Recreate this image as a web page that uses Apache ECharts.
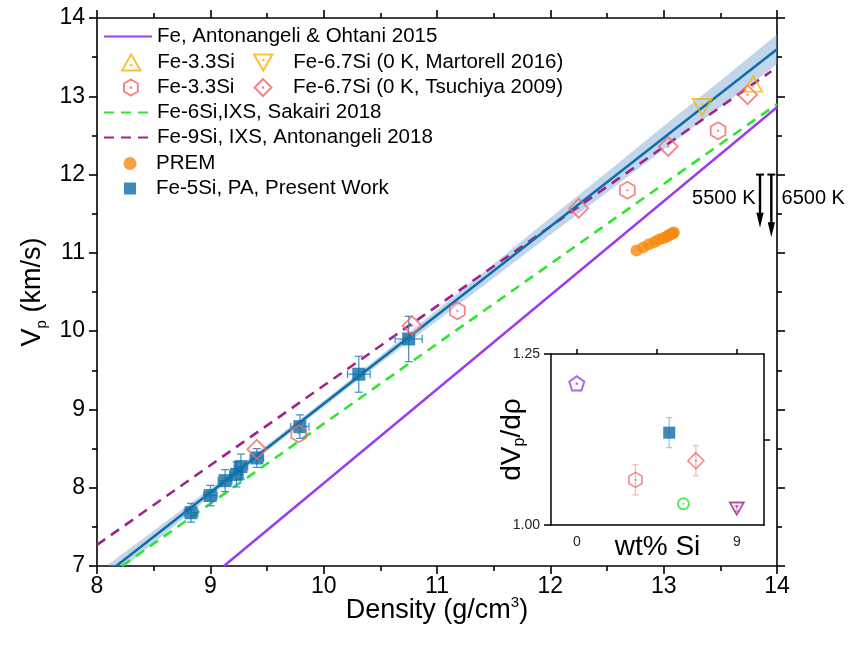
<!DOCTYPE html>
<html><head><meta charset="utf-8">
<script src="https://cdn.jsdelivr.net/npm/echarts@6/dist/echarts.min.js"></script>
<style>html,body{margin:0;padding:0;background:#fff}#c{width:854px;height:654px}</style>
</head><body><div id="c"></div>
<script>
// ---------- data ----------
const xTicks = [8, 9, 10, 11, 12, 13, 14];
const yTicks = [7, 8, 9, 10, 11, 12, 13, 14];

const feRho = [9.12, 14.0];          // Fe, Antonangeli & Ohtani 2015
const feVp = [7.0, 12.86];
const sakairiRho = [8.22, 14.0];     // Fe-6Si IXS Sakairi 2018
const sakairiVp = [7.0, 12.9];
const antonRho = [8.0, 13.95];       // Fe-9Si IXS Antonangeli 2018
const antonVp = [7.27, 13.32];
const fitRho = [8.17, 14.0];         // Fe-5Si fit (present work)
const fitVp = [7.0, 13.6];
const bandRho = [8.1, 9.0, 9.5, 10.0, 10.5, 11.0, 11.5, 12.0, 12.5, 13.0, 13.5, 14.0];
const bandLow = [6.82, 7.89, 8.47, 9.03, 9.59, 10.13, 10.68, 11.23, 11.77, 12.32, 12.86, 13.41];
const bandHigh = [7.02, 7.99, 8.55, 9.11, 9.69, 10.27, 10.86, 11.45, 12.03, 12.62, 13.20, 13.79];

const pwRho = [8.83, 9.00, 9.13, 9.23, 9.27, 9.41, 9.79, 10.31, 10.75];
const pwVp = [7.68, 7.90, 8.09, 8.17, 8.27, 8.38, 8.78, 9.45, 9.90];
const pwRhoErr = [0.06, 0.06, 0.06, 0.06, 0.06, 0.06, 0.08, 0.10, 0.12];
const pwVpErr = [0.12, 0.13, 0.14, 0.16, 0.16, 0.12, 0.15, 0.23, 0.29];

const tsHexRho = [9.78, 11.18, 12.68, 13.48];
const tsHexVp = [8.69, 10.26, 11.80, 12.56];
const tsDiaRho = [9.41, 10.78, 12.25, 13.04, 13.74];
const tsDiaVp = [8.49, 10.07, 11.57, 12.36, 13.02];
const maUpRho = [13.79];
const maUpVp = [13.16];
const maDownRho = [13.34];
const maDownVp = [12.86];

const premRho = [12.76, 12.82, 12.87, 12.92, 12.96, 13.00, 13.03, 13.05, 13.07, 13.08, 13.09];
const premVp = [11.03, 11.07, 11.11, 11.14, 11.17, 11.19, 11.21, 11.23, 11.24, 11.25, 11.26];

const arrowRho = [13.85, 13.95];
const arrowTop = [12.0, 12.0];
const arrowBottom = [11.32, 11.2];
const arrowLabels = ['5500 K', '6500 K'];
const arrowLabelRho = [13.81, 14.04];
const arrowLabelVp = [11.69, 11.69];

// inset: dVp/drho vs wt% Si
const insetSi = [0, 3.3, 5.2, 6.0, 6.7, 9.0];
const insetSlope = [1.207, 1.066, 1.135, 1.031, 1.094, 1.024];
const insetErr = [0, 0.022, 0.022, 0, 0.022, 0.004];
const insetYTicks = [1.0, 1.25];

// ---------- styles ----------
const FONT = "'Liberation Sans', Arial, Helvetica, sans-serif";
const C_PURPLE = '#9b3cf0', C_GREEN = '#2ee62e', C_MAG = '#a0228c', C_BLUE = '#0d6ea6',
      C_BAND = 'rgba(120,165,210,0.45)', C_RED = '#f26868', C_ORANGE = '#f5b400', C_PREM = '#f7890c';
const DOT = ' M49,49 L51,49 L51,51 L49,51 Z';
const HEX = 'path://M50,0 L93.3,25 L93.3,75 L50,100 L6.7,75 L6.7,25 Z' + DOT;
const DIA = 'path://M50,0 L100,50 L50,100 L0,50 Z' + DOT;
const TUP = 'path://M50,0 L100,86.6 L0,86.6 Z M49,56.7 L51,56.7 L51,58.7 L49,58.7 Z';
const TDN = 'path://M0,0 L100,0 L50,86.6 Z M49,28 L51,28 L51,30 L49,30 Z';
const PENT = 'path://M50,0 L97.55,34.55 L79.39,90.45 L20.61,90.45 L2.45,34.55 Z M49,46 L51,46 L51,48 L49,48 Z';
const SQ = 'path://M0,0 L100,0 L100,100 L0,100 Z';

const pairs = (a, b) => a.map((x, i) => [x, b[i]]);
const displayName = {'Fe-3.3Si (Martorell)': 'Fe-3.3Si', 'Fe-3.3Si (Tsuchiya)': 'Fe-3.3Si'};

const axLine = {show: true, onZero: false, lineStyle: {color: '#000', width: 1.6}};
const tickSt = {color: '#000', width: 1.6};
const mainTick = {show: true, inside: false, length: 8, lineStyle: tickSt};
const mainMinor = {show: true, splitNumber: 2, length: 5, lineStyle: tickSt};
const noSplit = {show: false};

const legendBase = {selectedMode: false, padding: 0, orient: 'horizontal', symbolKeepAspect: true,
  textStyle: {fontSize: 20.5, color: '#000', fontFamily: FONT, lineHeight: 20},
  formatter: n => displayName[n] || n};
const lg = (name, left, top, w, h, extra) => Object.assign({}, legendBase, {data: [name], left, top, itemWidth: w, itemHeight: h}, extra || {});
const lineLg = {itemStyle: {opacity: 0}};

const hollow = (c, w) => ({color: 'rgba(0,0,0,0)', borderColor: c, borderWidth: w || 1.6});

const option = {
  animation: false,
  backgroundColor: '#fff',
  textStyle: {fontFamily: FONT},
  grid: [
    {left: 97, top: 18, width: 680, height: 548},
    {left: 551, top: 354, width: 213, height: 171}
  ],
  legend: [
    lg('Fe, Antonangeli & Ohtani 2015', 103, 26, 48, 14, lineLg),
    lg('Fe-3.3Si (Martorell)', 121, 52, 42, 16),
    lg('Fe-6.7Si (0 K, Martorell 2016)', 253, 52, 50, 16),
    lg('Fe-3.3Si (Tsuchiya)', 123, 77, 42, 16),
    lg('Fe-6.7Si (0 K, Tsuchiya 2009)', 253.5, 77, 50, 17),
    lg('Fe-6Si,IXS, Sakairi 2018', 103, 102, 48, 14, lineLg),
    lg('Fe-9Si, IXS, Antonangeli 2018', 103, 127, 48, 14, lineLg),
    lg('PREM', 123.5, 153, 42, 13),
    lg('Fe-5Si, PA, Present Work', 124, 178, 42, 12)
  ],
  xAxis: [
    {gridIndex: 0, type: 'value', position: 'bottom', min: xTicks[0], max: xTicks[xTicks.length - 1], interval: 1,
      axisLine: axLine, axisTick: mainTick, minorTick: mainMinor, splitLine: noSplit, minorSplitLine: noSplit,
      axisLabel: {fontSize: 23, color: '#000', margin: 9, fontFamily: FONT},
      name: '{a|Density (g/cm}{u|3}{a|)}', nameLocation: 'middle', nameGap: 29, nameMoveOverlap: false,
      nameTextStyle: {rich: {a: {fontSize: 27, fontFamily: FONT, color: '#000', lineHeight: 32},
        u: {fontSize: 15, fontFamily: FONT, color: '#000', verticalAlign: 'top', lineHeight: 14}}}},
    {gridIndex: 0, type: 'value', position: 'top', min: xTicks[0], max: xTicks[xTicks.length - 1], interval: 1,
      axisLine: axLine, axisTick: mainTick, minorTick: mainMinor, splitLine: noSplit, minorSplitLine: noSplit,
      axisLabel: {show: false}},
    {gridIndex: 1, type: 'value', position: 'bottom', min: -1.45, max: 10.53,
      axisLine: {show: true, onZero: false, lineStyle: {color: '#000', width: 1.5}},
      axisTick: {show: false}, splitLine: noSplit,
      axisLabel: {customValues: [0, 9], fontSize: 14, color: '#222', margin: 10, fontFamily: FONT},
      name: 'wt% Si', nameLocation: 'middle', nameGap: 6, nameMoveOverlap: false,
      nameTextStyle: {fontSize: 28, fontFamily: FONT, color: '#000', lineHeight: 32}},
    {gridIndex: 1, type: 'value', position: 'top', min: -1.45, max: 10.53,
      axisLine: {show: true, onZero: false, lineStyle: {color: '#000', width: 1.5}},
      axisTick: {show: true, customValues: [0, 4.5, 9], length: 5, lineStyle: {color: '#000', width: 1.5}},
      axisLabel: {show: false}, splitLine: noSplit}
  ],
  yAxis: [
    {gridIndex: 0, type: 'value', position: 'left', min: yTicks[0], max: yTicks[yTicks.length - 1], interval: 1,
      axisLine: axLine, axisTick: mainTick, minorTick: mainMinor, splitLine: noSplit, minorSplitLine: noSplit,
      axisLabel: {fontSize: 23, color: '#000', margin: 12, fontFamily: FONT},
      name: '{a|V}{s|p}{a| (km/s)}', nameLocation: 'middle', nameGap: 48, nameRotate: 90, nameMoveOverlap: false,
      nameTextStyle: {rich: {a: {fontSize: 27, fontFamily: FONT, color: '#000', lineHeight: 32},
        s: {fontSize: 15, fontFamily: FONT, color: '#000', verticalAlign: 'bottom', lineHeight: 14}}}},
    {gridIndex: 0, type: 'value', position: 'right', min: yTicks[0], max: yTicks[yTicks.length - 1], interval: 1,
      axisLine: axLine, axisTick: mainTick, minorTick: mainMinor, splitLine: noSplit, minorSplitLine: noSplit,
      axisLabel: {show: false}},
    {gridIndex: 1, type: 'value', position: 'left', min: 1.0, max: 1.25,
      axisLine: {show: true, onZero: false, lineStyle: {color: '#000', width: 1.5}},
      axisTick: {show: true, customValues: insetYTicks, length: 7, lineStyle: {color: '#000', width: 1.5}},
      axisLabel: {customValues: insetYTicks, formatter: v => Number(v).toFixed(2), fontSize: 14, color: '#222', margin: 11, fontFamily: FONT},
      splitLine: noSplit,
      name: '{a|dV}{s|p}{a|/dρ}', nameLocation: 'middle', nameGap: 23, nameRotate: 90, nameMoveOverlap: false,
      nameTextStyle: {rich: {a: {fontSize: 28, fontFamily: FONT, color: '#000', lineHeight: 32},
        s: {fontSize: 16, fontFamily: FONT, color: '#000', verticalAlign: 'bottom', lineHeight: 14}}}},
    {gridIndex: 1, type: 'value', position: 'right', min: 1.0, max: 1.25,
      axisLine: {show: true, onZero: false, lineStyle: {color: '#000', width: 1.5}},
      axisTick: {show: true, customValues: [1.125], length: 6, lineStyle: {color: '#000', width: 1.5}},
      axisLabel: {show: false}, splitLine: noSplit}
  ],
  series: [
    { // confidence band
      type: 'custom', name: 'band', xAxisIndex: 0, yAxisIndex: 0, z: 1, silent: true, clip: true,
      data: bandRho.map((x, i) => [x, bandLow[i], bandHigh[i]]), encode: {x: 0, y: [1, 2]},
      renderItem(params, api) {
        if (params.dataIndex !== 0) return {type: 'group', children: []};
        const up = bandRho.map((x, i) => api.coord([x, bandHigh[i]]));
        const lo = bandRho.map((x, i) => api.coord([x, bandLow[i]])).reverse();
        return {type: 'polygon', shape: {points: up.concat(lo)}, style: {fill: C_BAND}};
      }
    },
    {type: 'line', name: 'Fe, Antonangeli & Ohtani 2015', xAxisIndex: 0, yAxisIndex: 0, z: 2,
      data: pairs(feRho, feVp), symbol: 'none', lineStyle: {color: C_PURPLE, width: 2.5}, itemStyle: {color: C_PURPLE}},
    {type: 'line', name: 'Fe-6Si,IXS, Sakairi 2018', xAxisIndex: 0, yAxisIndex: 0, z: 2,
      data: pairs(sakairiRho, sakairiVp), symbol: 'none', lineStyle: {color: C_GREEN, width: 2.6, type: [10, 7]}, itemStyle: {color: C_GREEN}},
    {type: 'line', name: 'Fe-9Si, IXS, Antonangeli 2018', xAxisIndex: 0, yAxisIndex: 0, z: 2,
      data: pairs(antonRho, antonVp), symbol: 'none', lineStyle: {color: C_MAG, width: 2.6, type: [10, 7]}, itemStyle: {color: C_MAG}},
    {type: 'line', name: 'Fe-5Si fit', xAxisIndex: 0, yAxisIndex: 0, z: 2,
      data: pairs(fitRho, fitVp), symbol: 'none', lineStyle: {color: C_BLUE, width: 2.5}, itemStyle: {color: C_BLUE}},
    {type: 'scatter', name: 'PREM', xAxisIndex: 0, yAxisIndex: 0, z: 3,
      data: pairs(premRho, premVp), symbol: 'circle', symbolSize: 12, itemStyle: {color: C_PREM}},
    { // error bars present work
      type: 'custom', name: 'pwErr', xAxisIndex: 0, yAxisIndex: 0, z: 3, silent: true,
      data: pwRho.map((x, i) => [x, pwVp[i], pwRhoErr[i], pwVpErr[i]]), encode: {x: 0, y: 1},
      renderItem(params, api) {
        const x = api.value(0), y = api.value(1), ex = api.value(2), ey = api.value(3);
        const t = api.coord([x, y + ey]), b = api.coord([x, y - ey]);
        const l = api.coord([x - ex, y]), r = api.coord([x + ex, y]);
        const st = {stroke: '#3f8fc4', lineWidth: 1.2};
        const cap = 4;
        return {type: 'group', children: [
          {type: 'line', shape: {x1: t[0], y1: t[1], x2: b[0], y2: b[1]}, style: st},
          {type: 'line', shape: {x1: t[0] - cap, y1: t[1], x2: t[0] + cap, y2: t[1]}, style: st},
          {type: 'line', shape: {x1: b[0] - cap, y1: b[1], x2: b[0] + cap, y2: b[1]}, style: st},
          {type: 'line', shape: {x1: l[0], y1: l[1], x2: r[0], y2: r[1]}, style: st},
          {type: 'line', shape: {x1: l[0], y1: l[1] - cap, x2: l[0], y2: l[1] + cap}, style: st},
          {type: 'line', shape: {x1: r[0], y1: r[1] - cap, x2: r[0], y2: r[1] + cap}, style: st}
        ]};
      }
    },
    {type: 'scatter', name: 'Fe-5Si, PA, Present Work', xAxisIndex: 0, yAxisIndex: 0, z: 4,
      data: pairs(pwRho, pwVp), symbol: SQ, symbolSize: 13, symbolKeepAspect: true, itemStyle: {color: C_BLUE}},
    {type: 'scatter', name: 'Fe-3.3Si (Tsuchiya)', xAxisIndex: 0, yAxisIndex: 0, z: 5,
      data: pairs(tsHexRho, tsHexVp), symbol: HEX, symbolSize: 17, symbolKeepAspect: true, itemStyle: hollow(C_RED, 1.8)},
    {type: 'scatter', name: 'Fe-6.7Si (0 K, Tsuchiya 2009)', xAxisIndex: 0, yAxisIndex: 0, z: 5,
      data: pairs(tsDiaRho, tsDiaVp), symbol: DIA, symbolSize: 19, symbolKeepAspect: true, itemStyle: hollow(C_RED, 1.8)},
    {type: 'scatter', name: 'Fe-3.3Si (Martorell)', xAxisIndex: 0, yAxisIndex: 0, z: 5,
      data: pairs(maUpRho, maUpVp), symbol: TUP, symbolSize: 18, symbolKeepAspect: true, itemStyle: hollow(C_ORANGE, 1.8)},
    {type: 'scatter', name: 'Fe-6.7Si (0 K, Martorell 2016)', xAxisIndex: 0, yAxisIndex: 0, z: 5,
      data: pairs(maDownRho, maDownVp), symbol: TDN, symbolSize: 19, symbolKeepAspect: true, itemStyle: hollow(C_ORANGE, 1.8)},
    { // temperature arrows
      type: 'custom', name: 'arrows', xAxisIndex: 0, yAxisIndex: 0, z: 6, silent: true, clip: false,
      data: arrowRho.map((x, i) => [x, arrowTop[i], arrowBottom[i]]), encode: {x: 0, y: [1, 2]},
      renderItem(params, api) {
        const x = api.value(0);
        const p1 = api.coord([x, api.value(1)]), p2 = api.coord([x, api.value(2)]);
        const head = 15, hw = 3.6;
        return {type: 'group', children: [
          {type: 'line', shape: {x1: p1[0], y1: p1[1], x2: p2[0], y2: p2[1] - head + 2}, style: {stroke: '#000', lineWidth: 2.4}},
          {type: 'line', shape: {x1: p1[0] - 4, y1: p1[1], x2: p1[0] + 4, y2: p1[1]}, style: {stroke: '#000', lineWidth: 2}},
          {type: 'polygon', shape: {points: [[p2[0] - hw, p2[1] - head], [p2[0] + hw, p2[1] - head], [p2[0], p2[1]]]}, style: {fill: '#000'}}
        ]};
      }
    },
    { // arrow labels
      type: 'custom', name: 'arrowLabels', xAxisIndex: 0, yAxisIndex: 0, z: 6, silent: true, clip: false,
      data: arrowLabelRho.map((x, i) => [x, arrowLabelVp[i], i]), encode: {x: 0, y: 1},
      renderItem(params, api) {
        const i = api.value(2);
        const p = api.coord([api.value(0), api.value(1)]);
        const al = i === 0 ? 'right' : 'left';
        return {type: 'text', x: p[0], y: p[1], style: {text: arrowLabels[i], font: '20px ' + FONT, fill: '#000',
          align: al, verticalAlign: 'middle', textAlign: al, textVerticalAlign: 'middle'}};
      }
    },
    // ---------- inset ----------
    { // inset error bars
      type: 'custom', name: 'insetErr', xAxisIndex: 2, yAxisIndex: 2, z: 3, silent: true,
      data: insetSi.map((x, i) => [x, insetSlope[i], insetErr[i], i]), encode: {x: 0, y: 1},
      renderItem(params, api) {
        const x = api.value(0), y = api.value(1), e = api.value(2), i = api.value(3);
        if (!e) return {type: 'group', children: []};
        const cols = ['#ccc', '#f7b5b5', '#9fc3de', '#ccc', '#f7b5b5', '#d9a0cf'];
        const t = api.coord([x, y + e]), b = api.coord([x, y - e]);
        const st = {stroke: cols[i], lineWidth: 1.2};
        return {type: 'group', children: [
          {type: 'line', shape: {x1: t[0], y1: t[1], x2: b[0], y2: b[1]}, style: st},
          {type: 'line', shape: {x1: t[0] - 3, y1: t[1], x2: t[0] + 3, y2: t[1]}, style: st},
          {type: 'line', shape: {x1: b[0] - 3, y1: b[1], x2: b[0] + 3, y2: b[1]}, style: st}
        ]};
      }
    },
    {type: 'scatter', name: 'inset Fe', xAxisIndex: 2, yAxisIndex: 2, z: 5,
      data: [[insetSi[0], insetSlope[0]]], symbol: PENT, symbolSize: 15, symbolKeepAspect: true, itemStyle: hollow(C_PURPLE, 2)},
    {type: 'scatter', name: 'inset Fe-3.3Si', xAxisIndex: 2, yAxisIndex: 2, z: 5,
      data: [[insetSi[1], insetSlope[1]]], symbol: HEX, symbolSize: 15, symbolKeepAspect: true, itemStyle: hollow(C_RED, 1.6)},
    {type: 'scatter', name: 'inset Fe-5Si', xAxisIndex: 2, yAxisIndex: 2, z: 5,
      data: [[insetSi[2], insetSlope[2]]], symbol: SQ, symbolSize: 12, symbolKeepAspect: true, itemStyle: {color: C_BLUE}},
    {type: 'scatter', name: 'inset Fe-6Si', xAxisIndex: 2, yAxisIndex: 2, z: 5,
      data: [[insetSi[3], insetSlope[3]]], symbol: 'emptyCircle', symbolSize: 11, itemStyle: {color: C_GREEN, borderWidth: 2}},
    {type: 'scatter', name: 'inset Fe-6Si dot', xAxisIndex: 2, yAxisIndex: 2, z: 6,
      data: [[insetSi[3], insetSlope[3]]], symbol: 'circle', symbolSize: 2, itemStyle: {color: C_GREEN}},
    {type: 'scatter', name: 'inset Fe-6.7Si', xAxisIndex: 2, yAxisIndex: 2, z: 5,
      data: [[insetSi[4], insetSlope[4]]], symbol: DIA, symbolSize: 16, symbolKeepAspect: true, itemStyle: hollow(C_RED, 1.6)},
    {type: 'scatter', name: 'inset Fe-9Si', xAxisIndex: 2, yAxisIndex: 2, z: 5,
      data: [[insetSi[5], insetSlope[5]]], symbol: TDN, symbolSize: 14, symbolKeepAspect: true, itemStyle: hollow(C_MAG, 1.8)}
  ]
};

const chart = echarts.init(document.getElementById('c'), null, {renderer: 'canvas', width: 854, height: 654});
chart.setOption(option);
</script>
</body></html>
